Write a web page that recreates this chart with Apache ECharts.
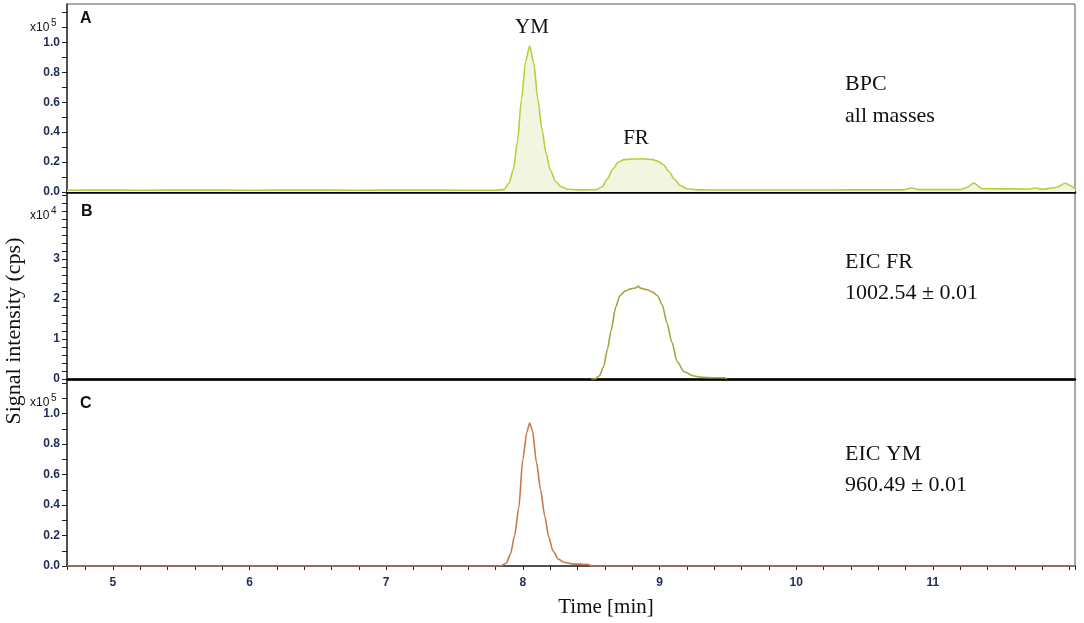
<!DOCTYPE html>
<html>
<head>
<meta charset="utf-8">
<script src="https://cdn.jsdelivr.net/npm/echarts@6/dist/echarts.min.js"></script>
<style>
  html, body { margin: 0; padding: 0; background: #fff; }
  #chart { width: 1084px; height: 623px; }
</style>
</head>
<body>
<div id="chart"></div>
<script>
// x range of the run (minutes)
var timeMin = 4.665;
var timeMax = 12.04;

// A: BPC all masses (x10^5 cps)
var bpcTime = [4.665, 4.9, 5.2, 5.6, 6.0, 6.4, 6.8, 7.2, 7.6, 7.8, 7.86, 7.90, 7.93, 7.96, 7.99, 8.02, 8.05, 8.08, 8.11, 8.14, 8.17, 8.20, 8.24, 8.28, 8.33, 8.45, 8.54, 8.58, 8.62, 8.66, 8.70, 8.74, 8.80, 8.88, 8.95, 8.99, 9.03, 9.07, 9.11, 9.15, 9.20, 9.28, 9.6, 10.0, 10.4, 10.78, 10.84, 10.9, 11.2, 11.25, 11.30, 11.36, 11.7, 11.75, 11.8, 11.9, 11.97, 12.01, 12.04];
var bpcVal  = [0.012, 0.013, 0.012, 0.013, 0.012, 0.013, 0.012, 0.013, 0.012, 0.012, 0.016, 0.06, 0.15, 0.33, 0.62, 0.87, 0.975, 0.86, 0.62, 0.42, 0.26, 0.15, 0.07, 0.035, 0.018, 0.014, 0.016, 0.035, 0.09, 0.155, 0.2, 0.216, 0.22, 0.221, 0.216, 0.205, 0.18, 0.135, 0.085, 0.045, 0.022, 0.014, 0.013, 0.013, 0.014, 0.014, 0.027, 0.016, 0.016, 0.03, 0.06, 0.022, 0.02, 0.027, 0.018, 0.03, 0.058, 0.04, 0.02];

// B: EIC FR 1002.54 (x10^4 cps)
var frTime = [8.50, 8.53, 8.56, 8.59, 8.62, 8.645, 8.68, 8.71, 8.75, 8.79, 8.83, 8.845, 8.86, 8.91, 8.95, 8.985, 9.02, 9.055, 9.09, 9.13, 9.18, 9.25, 9.32, 9.40, 9.48, 9.49];
var frVal  = [0, 0, 0.08, 0.3, 0.75, 1.2, 1.8, 2.08, 2.2, 2.25, 2.28, 2.32, 2.27, 2.23, 2.17, 2.08, 1.85, 1.4, 0.92, 0.43, 0.18, 0.075, 0.04, 0.03, 0.03, 0];

// C: EIC YM 960.49 (x10^5 cps)
var ymTime = [4.665, 7.84, 7.88, 7.91, 7.94, 7.97, 8.00, 8.03, 8.05, 8.07, 8.10, 8.13, 8.16, 8.19, 8.22, 8.26, 8.30, 8.36, 8.48, 8.50, 12.04];
var ymVal  = [0, 0, 0.02, 0.08, 0.2, 0.38, 0.7, 0.88, 0.938, 0.89, 0.68, 0.5, 0.33, 0.19, 0.1, 0.045, 0.025, 0.014, 0.01, 0, 0];

// y-axis tops
var yMaxA = 1.256;
var yMaxB = 4.67;
var yMaxC = 1.22;

function pairs(t, v) {
  return t.map(function (x, i) { return [x, v[i]]; });
}

var chart = echarts.init(document.getElementById('chart'));

var tickFont = { color: '#1f2c58', fontFamily: 'Liberation Sans', fontSize: 12, fontWeight: 'bold' };
var serif = '"Liberation Serif"';

function xAxisFor(idx, bottom) {
  return {
    type: 'value', gridIndex: idx, min: timeMin, max: timeMax,
    minInterval: 0.2, maxInterval: 0.2, splitNumber: 40,
    axisLine: { onZero: false, lineStyle: bottom ? { color: '#333', width: 1.5 } : { color: '#000', width: 2.5 } },
    axisTick: { show: bottom, length: 4, lineStyle: { color: '#222' } },
    axisLabel: bottom ? Object.assign({
      margin: 11,
      formatter: function (v) {
        return (Math.abs(v - Math.round(v)) < 1e-6 && v < 11.5) ? String(Math.round(v)) : '';
      }
    }, tickFont) : { show: false },
    splitLine: { show: false }
  };
}

function yAxisFor(idx, max, step, labelEvery, labelMax, digits) {
  return {
    type: 'value', gridIndex: idx, min: 0, max: max, interval: step,
    axisLine: { show: true, onZero: false, lineStyle: { color: '#333', width: 1.5 } },
    axisTick: { show: true, length: 5, lineStyle: { color: '#222' } },
    axisLabel: Object.assign({
      margin: 7, showMaxLabel: false,
      formatter: function (v) {
        var n = Math.round(v / step);
        if (n % labelEvery !== 0 || v > labelMax + 1e-6) return '';
        return v.toFixed(digits);
      }
    }, tickFont),
    splitLine: { show: false }
  };
}

var gridBox = { left: 67, right: 9, show: true, borderColor: '#555', borderWidth: 1 };

function txt(x, y, s, font, align) {
  return { type: 'text', x: x, y: y, z: 100,
    style: { text: s, font: font, fill: '#111', align: align || 'left', verticalAlign: 'middle' } };
}

var option = {
  animation: false,
  backgroundColor: '#fff',
  grid: [
    Object.assign({ top: 4, height: 188 }, gridBox),
    Object.assign({ top: 192, height: 187 }, gridBox),
    Object.assign({ top: 380, height: 186 }, gridBox)
  ],
  xAxis: [xAxisFor(0, false), xAxisFor(1, false), xAxisFor(2, true)],
  yAxis: [
    yAxisFor(0, yMaxA, 0.1, 2, 1.0, 1),
    yAxisFor(1, yMaxB, 0.2, 5, 3, 0),
    yAxisFor(2, yMaxC, 0.1, 2, 1.0, 1)
  ],
  series: [
    {
      type: 'line', xAxisIndex: 0, yAxisIndex: 0, data: pairs(bpcTime, bpcVal),
      showSymbol: false, smooth: 0.25, smoothMonotone: 'x',
      lineStyle: { color: '#b2d23c', width: 1.6 },
      areaStyle: { color: '#f2f6e0', opacity: 1 }
    },
    {
      type: 'line', xAxisIndex: 1, yAxisIndex: 1, data: pairs(frTime, frVal),
      showSymbol: false, smooth: 0.25, smoothMonotone: 'x',
      lineStyle: { color: '#a5a43a', width: 1.6 }
    },
    {
      type: 'line', xAxisIndex: 2, yAxisIndex: 2, data: pairs(ymTime, ymVal),
      showSymbol: false, smooth: 0.25, smoothMonotone: 'x',
      lineStyle: { color: '#c8784c', width: 1.6 }
    }
  ],
  graphic: [
    // panel letters
    txt(80, 19, 'A', 'bold 16px "Liberation Sans"'),
    txt(81, 212, 'B', 'bold 16px "Liberation Sans"'),
    txt(80, 404, 'C', 'bold 16px "Liberation Sans"'),
    // exponent labels
    txt(30, 28, 'x10', '12px "Liberation Sans"'),
    txt(51, 23, '5', '10px "Liberation Sans"'),
    txt(30, 216, 'x10', '12px "Liberation Sans"'),
    txt(51, 211, '4', '10px "Liberation Sans"'),
    txt(30, 403, 'x10', '12px "Liberation Sans"'),
    txt(51, 398, '5', '10px "Liberation Sans"'),
    // peak labels
    txt(532, 27, 'YM', '21px ' + serif, 'center'),
    txt(636, 138, 'FR', '21px ' + serif, 'center'),
    // trace descriptions
    txt(845, 84, 'BPC', '22px ' + serif),
    txt(845, 116, 'all masses', '22px ' + serif),
    txt(845, 262, 'EIC FR', '22px ' + serif),
    txt(845, 293, '1002.54 \u00b1 0.01', '22px ' + serif),
    txt(845, 454, 'EIC YM', '22px ' + serif),
    txt(845, 485, '960.49 \u00b1 0.01', '22px ' + serif),
    // axis titles
    txt(606, 607, 'Time [min]', '21px ' + serif, 'center'),
    { type: 'text', x: 14, y: 331, rotation: Math.PI / 2, z: 100,
      style: { text: 'Signal intensity (cps)', font: '22px ' + serif, fill: '#111', align: 'center', verticalAlign: 'middle' } }
  ]
};

chart.setOption(option);
</script>
</body>
</html>
